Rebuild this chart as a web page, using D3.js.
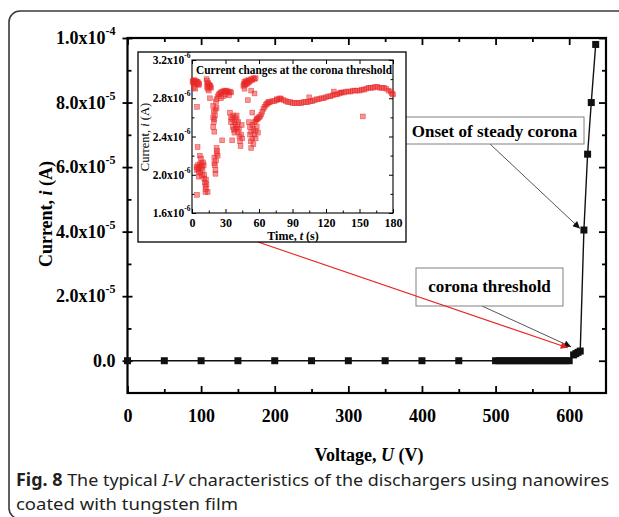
<!DOCTYPE html>
<html><head><meta charset="utf-8">
<script src="https://cdn.jsdelivr.net/npm/d3@7"></script>
<style>body{margin:0;background:#fff}svg{display:block}</style>
</head><body>
<svg id="c" width="619" height="517"></svg>
<script>
// ---------- main I-V data ----------
const voltage = [0,50,100,150,200,250,300,350,400,450,500,505,510,515,520,525,530,535,540,545,550,555,560,565,570,575,580,585,590,595,600,606,609,612,615,620,625,630,636];
const current = [0,0,0,0,0,0,0,0,0,0,0,0,0,0,0,0,0,0,0,0,0,0,0,0,0,0,0,0,0,0,0,1.8e-6,2.2e-6,2.6e-6,3.0e-6,4.05e-5,6.4e-5,8.0e-5,9.8e-5];
const xMajorTicks = [0,100,200,300,400,500,600];
const xMinorTicks = [50,150,250,350,450,550];
const yMajorTicks = [0,2e-5,4e-5,6e-5,8e-5,1e-4];
const yMinorTicks = [1e-5,3e-5,5e-5,7e-5,9e-5];
const yTickBase = ["0.0","2.0x10","4.0x10","6.0x10","8.0x10","1.0x10"];
const yTickExp  = ["","-5","-5","-5","-5","-4"];

// ---------- inset data (time s, current in 1e-6 A) ----------
const insetTime = [
 0.5,1,1.5,2,2.5,3,3.5,4,4.5,5,5.5,6,6.5,1.5,3,4.5,5,4.5,
 4,4.5,5,5.5,6,6.5,7,7.5,8,8.5,9,9.5,10,10.5,7,8,6,9,
 11,11.5,12,12.5,12,13,11,12.5,14,
 13,13.5,14,14.5,15,15.5,16,16.5,17,14,15,13.5,16,
 19,19.5,19,19.5,20,19,20,20.5,21,22,20,20.5,21,21.5,22,22.5,21,23,20,22,
 21.5,22,23,24,25,26,27,28,29,30,31,32,33,34,35,28,30,26,33,27,
 34,35,35,36,36.5,37,37.5,38,38.5,39,39.5,40,40.5,41,41.5,42,42.5,43,43.5,44,44.5,45,36,38,40,
 46,46.5,47,47.5,48,48.5,49,49.5,50,50.5,51,52,53,54,55,56,57,47,50,56,53,
 51,52,52,52.5,53,53,54,54,55,55,56,56,57,57,58,58,54,59,
 57,58,59,60,61,62,63,64,65,66,67,68,69,70,72,74,76,78,79,80,82,84,86,88,90,92,94,96,98,100,
 102,104,106,108,110,112,114,116,118,120,122,124,126,128,130,132,134,136,138,140,142,144,146,148,150,
 152,154,156,158,160,162,164,166,168,170,172,174,176,178,179,180,
 105,127,133,153,76
];
const insetCurrent = [
 2.97,2.98,2.96,2.99,2.97,2.96,2.98,2.97,2.95,2.97,2.96,2.94,2.95,2.91,2.90,2.71,2.29,1.79,
 2.08,2.05,2.10,2.06,2.03,2.08,2.11,2.02,2.07,2.12,2.09,2.05,2.13,2.10,2.20,2.17,1.98,1.99,
 1.96,1.92,1.88,1.85,1.82,1.90,2.00,1.95,1.82,
 3.00,2.98,2.95,2.96,2.93,2.94,2.92,2.93,2.91,2.90,2.88,2.92,2.80,
 2.72,2.66,2.60,2.55,2.58,2.50,2.45,2.62,2.68,2.70,2.18,2.10,2.05,2.15,2.22,2.25,2.01,2.20,2.12,2.28,
 2.76,2.79,2.82,2.84,2.85,2.86,2.87,2.87,2.88,2.87,2.88,2.87,2.86,2.87,2.86,2.82,2.84,2.80,2.83,2.36,
 2.65,2.60,2.55,2.58,2.50,2.62,2.47,2.55,2.60,2.52,2.48,2.57,2.50,2.45,2.55,2.48,2.40,2.35,2.30,2.42,2.52,2.38,2.36,2.44,2.62,
 2.93,2.95,2.97,2.94,2.96,2.98,2.95,2.97,2.96,2.99,2.97,2.98,3.00,2.99,3.01,3.00,3.01,2.90,2.78,2.85,2.88,
 2.55,2.50,2.42,2.35,2.28,2.45,2.52,2.38,2.48,2.32,2.42,2.55,2.46,2.38,2.50,2.58,2.65,2.44,
 2.56,2.58,2.59,2.60,2.61,2.63,2.66,2.69,2.71,2.73,2.74,2.75,2.76,2.76,2.77,2.77,2.78,2.79,2.80,2.79,2.78,2.77,2.76,2.76,2.75,2.75,2.75,2.75,2.75,2.76,
 2.76,2.76,2.77,2.77,2.78,2.79,2.79,2.80,2.80,2.81,2.82,2.82,2.83,2.84,2.84,2.85,2.86,2.86,2.87,2.87,2.87,2.88,2.88,2.88,2.88,
 2.89,2.89,2.90,2.91,2.91,2.91,2.92,2.92,2.91,2.91,2.91,2.90,2.88,2.87,2.85,2.84,
 2.81,2.87,2.86,2.61,2.79
];
const insetXTicks = [0,30,60,90,120,150,180];
const insetXMinor = [15,45,75,105,135,165];
const insetYTicks = [1.6,2.0,2.4,2.8,3.2];
const insetYMinor = [1.8,2.2,2.6,3.0];

const svg = d3.select("#c");
const serif = "'Liberation Serif','Times New Roman',serif";

// figure frame
svg.append("path")
  .attr("d","M 625 11 H 20 A 11 11 0 0 0 9 22 V 508 A 11 11 0 0 0 20 519 H 625")
  .attr("fill","none").attr("stroke","#3a3a3a").attr("stroke-width",1.6);

// ---------- main plot ----------
const L=127.5, R=606, T=38, B=393;
const x = d3.scaleLinear().domain([0,650]).range([L,R]);
const y = d3.scaleLinear().domain([-1e-5,1e-4]).range([B,T]);

const g = svg.append("g");
function styleAxis(sel){ sel.select(".domain").remove(); sel.selectAll("line").attr("stroke","#000").attr("stroke-width",1.8); }

// bottom axis
g.append("g").attr("transform",`translate(0,${B})`)
 .call(d3.axisBottom(x).tickValues(xMajorTicks).tickSizeInner(-7).tickSizeOuter(0).tickPadding(16).tickFormat(d3.format("d")))
 .call(styleAxis)
 .call(s=>s.selectAll("text").attr("font-family",serif).attr("font-weight","bold").attr("font-size",18).attr("fill","#000"));
g.append("g").attr("transform",`translate(0,${B})`)
 .call(d3.axisBottom(x).tickValues(xMinorTicks).tickSizeInner(-4).tickSizeOuter(0).tickFormat(""))
 .call(styleAxis);
// top axis
g.append("g").attr("transform",`translate(0,${T})`)
 .call(d3.axisTop(x).tickValues(xMajorTicks).tickSizeInner(-7).tickSizeOuter(0).tickFormat(""))
 .call(styleAxis);
g.append("g").attr("transform",`translate(0,${T})`)
 .call(d3.axisTop(x).tickValues(xMinorTicks).tickSizeInner(-4).tickSizeOuter(0).tickFormat(""))
 .call(styleAxis);
// left axis
const la = g.append("g").attr("transform",`translate(${L},0)`)
 .call(d3.axisLeft(y).tickValues(yMajorTicks).tickSizeInner(5).tickSizeOuter(0).tickPadding(7).tickFormat(()=>""))
 .call(styleAxis);
la.selectAll(".tick text").each(function(d,i){
  const t=d3.select(this).attr("font-family",serif).attr("font-weight","bold").attr("font-size",18).attr("fill","#000");
  t.append("tspan").text(yTickBase[i]);
  if(yTickExp[i]) t.append("tspan").attr("font-size",12).attr("dy","-0.75em").text(yTickExp[i]);
});
g.append("g").attr("transform",`translate(${L},0)`)
 .call(d3.axisLeft(y).tickValues(yMajorTicks).tickSizeInner(-5).tickSizeOuter(0).tickFormat(""))
 .call(styleAxis);
g.append("g").attr("transform",`translate(${L},0)`)
 .call(d3.axisLeft(y).tickValues(yMinorTicks).tickSizeInner(-4).tickSizeOuter(0).tickFormat(""))
 .call(styleAxis);
// right axis
g.append("g").attr("transform",`translate(${R},0)`)
 .call(d3.axisRight(y).tickValues(yMajorTicks).tickSizeInner(-7).tickSizeOuter(0).tickFormat(""))
 .call(styleAxis);
g.append("g").attr("transform",`translate(${R},0)`)
 .call(d3.axisRight(y).tickValues(yMinorTicks).tickSizeInner(-4).tickSizeOuter(0).tickFormat(""))
 .call(styleAxis);
g.append("rect").attr("x",L).attr("y",T).attr("width",R-L).attr("height",B-T)
 .attr("fill","none").attr("stroke","#000").attr("stroke-width",2.2);

// axis titles
g.append("text").attr("x",369).attr("y",461).attr("text-anchor","middle")
 .attr("font-family",serif).attr("font-weight","bold").attr("font-size",18)
 .call(t=>{t.append("tspan").text("Voltage, ");t.append("tspan").attr("font-style","italic").text("U");t.append("tspan").text(" (V)");});
g.append("text").attr("transform","translate(52,214) rotate(-90)").attr("text-anchor","middle")
 .attr("font-family",serif).attr("font-weight","bold").attr("font-size",18)
 .call(t=>{t.append("tspan").text("Current, ");t.append("tspan").attr("font-style","italic").text("i");t.append("tspan").text(" (A)");});

// data line + markers
const pts = voltage.map((v,i)=>[v,current[i]]);
g.append("path").attr("d",d3.line().x(d=>x(d[0])).y(d=>y(d[1]))(pts))
 .attr("fill","none").attr("stroke","#111").attr("stroke-width",1.4);
g.selectAll("rect.m").data(pts).join("rect").attr("class","m")
 .attr("x",d=>x(d[0])-3.5).attr("y",d=>y(d[1])-3.5).attr("width",7).attr("height",7).attr("fill","#111");

// arrow markers
const defs = svg.append("defs");
function mk(id,color){
  defs.append("marker").attr("id",id).attr("viewBox","0 0 10 10").attr("refX",10).attr("refY",5)
   .attr("markerWidth",9).attr("markerHeight",7).attr("markerUnits","userSpaceOnUse").attr("orient","auto")
   .append("path").attr("d","M0,0 L10,5 L0,10 Z").attr("fill",color);
}
mk("ab","#111"); mk("ar","#e8231f");

// annotation: onset of steady corona
g.append("line").attr("x1",490).attr("y1",144).attr("x2",x(614.5)).attr("y2",y(4.1e-5))
 .attr("stroke","#555").attr("stroke-width",1).attr("marker-end","url(#ab)");
g.append("rect").attr("x",405).attr("y",117).attr("width",179).attr("height",27)
 .attr("fill","#fff").attr("stroke","#808080").attr("stroke-width",1);
g.append("text").attr("x",494.5).attr("y",136.5).attr("text-anchor","middle")
 .attr("font-family",serif).attr("font-weight","bold").attr("font-size",17).text("Onset of steady corona");

// annotation: corona threshold
g.append("line").attr("x1",482).attr("y1",306).attr("x2",x(602.5)).attr("y2",y(4.3e-6))
 .attr("stroke","#555").attr("stroke-width",1).attr("marker-end","url(#ab)");
g.append("rect").attr("x",416).attr("y",268).attr("width",147).attr("height",38)
 .attr("fill","#fff").attr("stroke","#808080").attr("stroke-width",1);
g.append("text").attr("x",489.5).attr("y",292).attr("text-anchor","middle")
 .attr("font-family",serif).attr("font-weight","bold").attr("font-size",17).text("corona threshold");

// red arrow from inset
g.append("line").attr("x1",258).attr("y1",242).attr("x2",x(598)).attr("y2",y(4.0e-6))
 .attr("stroke","#e8231f").attr("stroke-width",1.1).attr("marker-end","url(#ar)");

// ---------- inset ----------
const ig = svg.append("g");
ig.append("rect").attr("x",138).attr("y",52).attr("width",268).attr("height",190)
 .attr("fill","#fff").attr("stroke","#000").attr("stroke-width",1.3);
const iL=192, iR=393, iT=60, iB=213;
const ix = d3.scaleLinear().domain([0,180]).range([iL,iR]);
const iy = d3.scaleLinear().domain([1.6,3.2]).range([iB,iT]);
function sty2(sel){ sel.select(".domain").remove(); sel.selectAll("line").attr("stroke","#000").attr("stroke-width",1); }
ig.append("g").attr("transform",`translate(0,${iB})`)
 .call(d3.axisBottom(ix).tickValues(insetXTicks).tickSizeInner(-4).tickSizeOuter(0).tickPadding(5).tickFormat(d3.format("d")))
 .call(sty2)
 .call(s=>s.selectAll("text").attr("font-family",serif).attr("font-weight","bold").attr("font-size",12).attr("fill","#000"));
ig.append("g").attr("transform",`translate(0,${iB})`)
 .call(d3.axisBottom(ix).tickValues(insetXMinor).tickSizeInner(-2.5).tickSizeOuter(0).tickFormat("")).call(sty2);
ig.append("g").attr("transform",`translate(0,${iT})`)
 .call(d3.axisTop(ix).tickValues(insetXTicks).tickSizeInner(-4).tickSizeOuter(0).tickFormat("")).call(sty2);
const ila = ig.append("g").attr("transform",`translate(${iL},0)`)
 .call(d3.axisLeft(iy).tickValues(insetYTicks).tickSizeInner(-4).tickSizeOuter(0).tickPadding(1.5).tickFormat(()=>""))
 .call(sty2);
ila.selectAll(".tick text").each(function(d){
  const t=d3.select(this).attr("font-family",serif).attr("font-weight","bold").attr("font-size",11.5).attr("fill","#000");
  t.append("tspan").text(d.toFixed(1)+"x10");
  t.append("tspan").attr("font-size",7.5).attr("dy","-0.85em").text("-6");
});
ig.append("g").attr("transform",`translate(${iL},0)`)
 .call(d3.axisLeft(iy).tickValues(insetYMinor).tickSizeInner(-2.5).tickSizeOuter(0).tickFormat("")).call(sty2);
ig.append("g").attr("transform",`translate(${iR},0)`)
 .call(d3.axisRight(iy).tickValues(insetYTicks).tickSizeInner(-4).tickSizeOuter(0).tickFormat("")).call(sty2);
ig.append("g").attr("transform",`translate(${iR},0)`)
 .call(d3.axisRight(iy).tickValues(insetYMinor).tickSizeInner(-2.5).tickSizeOuter(0).tickFormat("")).call(sty2);
ig.append("rect").attr("x",iL).attr("y",iT).attr("width",iR-iL).attr("height",iB-iT)
 .attr("fill","none").attr("stroke","#000").attr("stroke-width",1.1);

// scatter
const ipts = insetTime.map((t,i)=>[t,insetCurrent[i]]);
ig.selectAll("rect.s").data(ipts).join("rect").attr("class","s")
 .attr("x",d=>ix(d[0])-2.4).attr("y",d=>iy(d[1])-2.4).attr("width",4.8).attr("height",4.8)
 .attr("fill","rgba(236,45,45,0.5)").attr("stroke","rgba(232,35,35,0.7)").attr("stroke-width",0.6);

ig.append("text").attr("x",294).attr("y",74).attr("text-anchor","middle")
 .attr("font-family",serif).attr("font-weight","bold").attr("font-size",12.5)
 .attr("textLength",196).attr("lengthAdjust","spacingAndGlyphs")
 .text("Current changes at the corona threshold");
ig.append("text").attr("x",293).attr("y",240).attr("text-anchor","middle")
 .attr("font-family",serif).attr("font-weight","bold").attr("font-size",12)
 .call(t=>{t.append("tspan").text("Time, ");t.append("tspan").attr("font-style","italic").text("t");t.append("tspan").text(" (s)");});
ig.append("text").attr("transform","translate(149,137) rotate(-90)").attr("text-anchor","middle")
 .attr("font-family",serif).attr("font-size",12.5)
 .call(t=>{t.append("tspan").text("Current, ");t.append("tspan").attr("font-style","italic").text("i");t.append("tspan").text(" (A)");});

// ---------- caption ----------
const cap = "'Noto Sans','Open Sans',sans-serif";
svg.append("text").attr("x",16).attr("y",486).attr("font-family",cap).attr("font-size",17).attr("fill","#231f20")
 .attr("textLength",593).attr("lengthAdjust","spacingAndGlyphs")
 .call(t=>{t.append("tspan").attr("font-weight","bold").text("Fig. 8");
   t.append("tspan").text(" The typical ");
   t.append("tspan").attr("font-style","italic").text("I-V");
   t.append("tspan").text(" characteristics of the dischargers using nanowires");});
svg.append("text").attr("x",16).attr("y",510).attr("font-family",cap).attr("font-size",17).attr("fill","#231f20")
 .attr("textLength",222).attr("lengthAdjust","spacingAndGlyphs")
 .text("coated with tungsten film");
</script>
</body></html>
